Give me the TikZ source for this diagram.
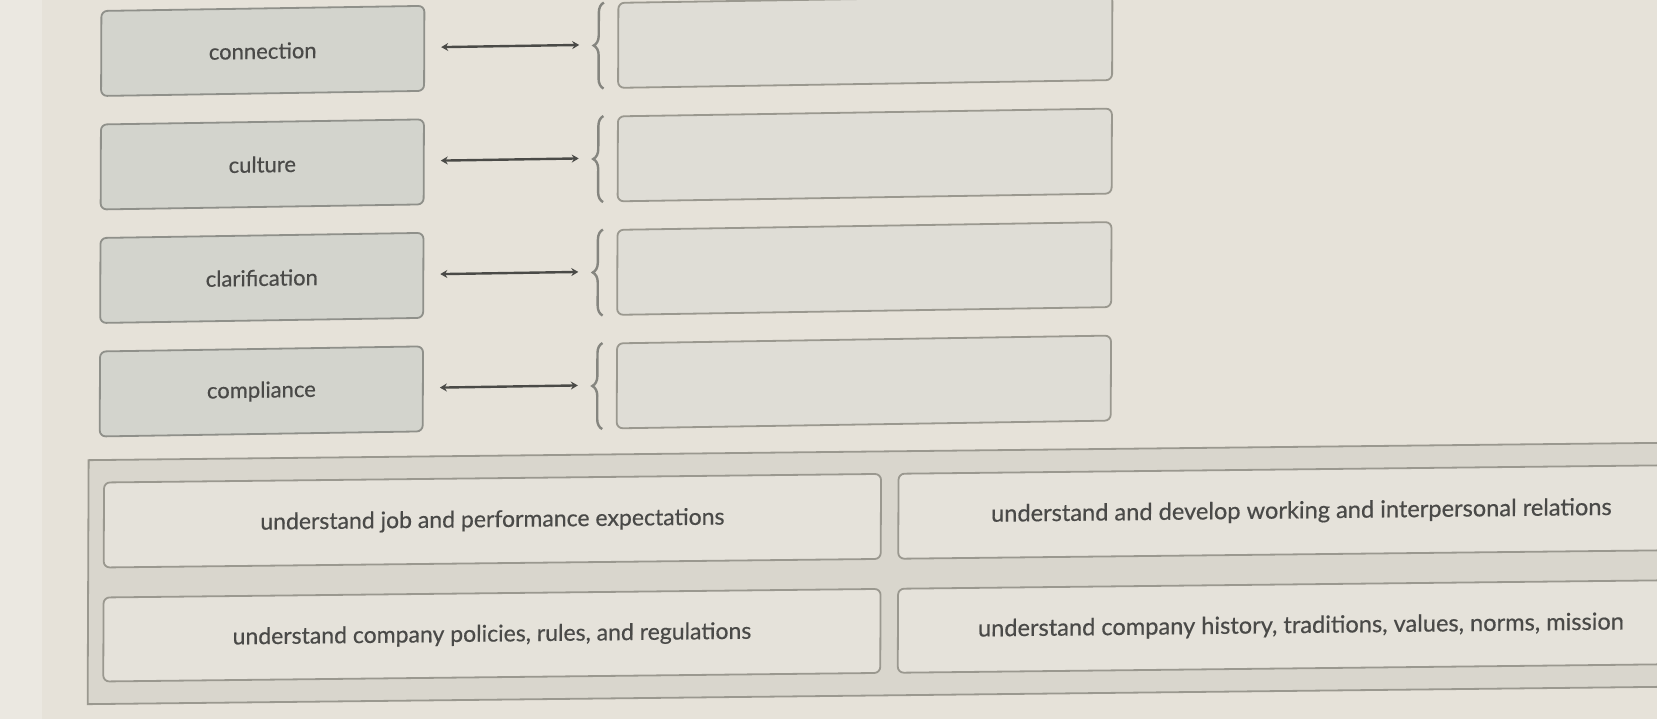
\documentclass[tikz,border=0pt]{standalone}
\usepackage{fontspec}
\setmainfont{Lato}[FakeBold=0.5]
\usetikzlibrary{arrows.meta,decorations.pathreplacing}
\definecolor{bgc}{HTML}{E6E2D9}
\definecolor{stripc}{HTML}{EBE8E1}
\definecolor{lfill}{HTML}{D3D4CD}
\definecolor{lborder}{HTML}{8F908A}
\definecolor{rfill}{HTML}{DFDDD6}
\definecolor{rborder}{HTML}{9A988F}
\definecolor{pfill}{HTML}{D9D6CD}
\definecolor{ofill}{HTML}{E5E2DA}
\definecolor{txtc}{HTML}{4A4A48}
\definecolor{arrc}{HTML}{4A4A47}
\definecolor{bracec}{HTML}{85857F}
\tikzset{
  termbox/.style={draw=lborder, fill=lfill, line width=1.8pt, rounded corners=6pt,
    minimum width=323pt, minimum height=85pt, inner sep=0pt, text=txtc,
    font=\fontsize{22}{26}\selectfont},
  slotbox/.style={draw=rborder, fill=rfill, line width=1.8pt, rounded corners=6pt,
    minimum width=494pt, minimum height=85pt, inner sep=0pt},
  optbox/.style={draw=rborder, fill=ofill, line width=1.8pt, rounded corners=6pt,
    inner sep=0pt, text=txtc},
  panelbox/.style={draw=rborder, fill=pfill, line width=1.8pt, inner sep=0pt},
  link/.style={draw=arrc, line width=2.4pt, {Stealth[length=7pt,width=8pt]}-{Stealth[length=7pt,width=8pt]}},
  bracel/.style={draw=bracec, line width=2.4pt, decorate, decoration={brace, amplitude=10pt}}
}
\begin{document}
\begin{tikzpicture}[x=1pt,y=-1pt]
\useasboundingbox (0,0) rectangle (1657,719);
\clip (0,0) rectangle (1657,719);
\fill[bgc] (0,0) rectangle (1657,719);
\fill[stripc] (0,0) rectangle (42,719);
\begin{scope}[cm={1,0.0157,0.004,1,(1.4pt,-13.03pt)}, transform shape]
  % upper rows
  \foreach \i/\y/\t in {1/42/connection, 2/155.5/culture, 3/269/clarification, 4/382.5/compliance}{
    \node[termbox] (l\i) at (261.5,\y) {\t};
    \node[slotbox] (r\i) at (864,\y) {};
    \coordinate (as\i) at (440,\y-1);
    \coordinate (ae\i) at (578,\y-1);
    \draw[link] (as\i) -- (ae\i);
    \coordinate (bb\i) at (602.5,\y+43);
    \coordinate (bt\i) at (602.5,\y-43);
    \draw[bracel] (bb\i) -- (bt\i);
  }
\end{scope}
\begin{scope}[cm={1,0.011,0.004,1,(1.44pt,-9.13pt)}, transform shape]
  % answer panel
  \node[panelbox, minimum width=1671pt, minimum height=244pt] (panel) at (924.5,574) {};
  \node[optbox, minimum width=777pt, minimum height=85pt, font=\fontsize{23}{27}\selectfont] (o1) at (493,517) {understand job and performance expectations};
  \node[optbox, minimum width=806pt, minimum height=85pt, font=\fontsize{23.6}{27}\selectfont] (o2) at (1302,517) {understand and develop working and interpersonal relations};
  \node[optbox, minimum width=777pt, minimum height=84pt, font=\fontsize{23}{27}\selectfont] (o3) at (493,631.5) {understand company policies, rules, and regulations};
  \node[optbox, minimum width=806pt, minimum height=84pt, font=\fontsize{23.6}{27}\selectfont] (o4) at (1302,631.5) {understand company history, traditions, values, norms, mission};
\end{scope}
\end{tikzpicture}
\end{document}
